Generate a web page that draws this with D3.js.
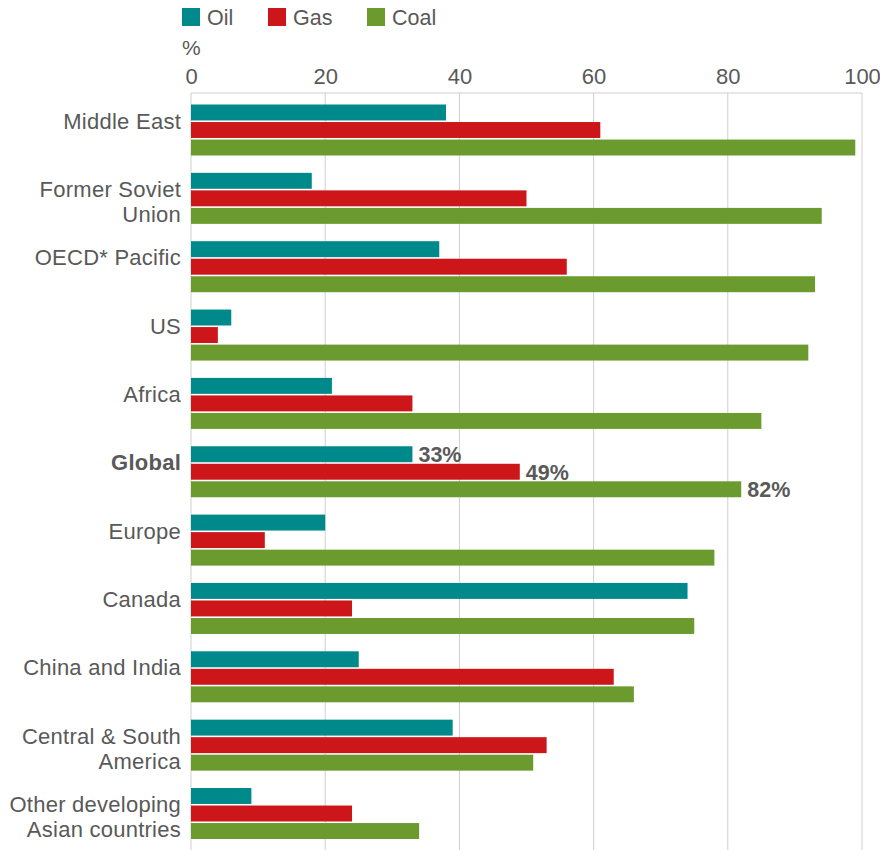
<!DOCTYPE html>
<html>
<head>
<meta charset="utf-8">
<script src="https://cdn.jsdelivr.net/npm/d3@7/dist/d3.min.js"></script>
<style>
  html, body { margin: 0; padding: 0; background: #fff; }
  svg { display: block; font-family: "Liberation Sans", Arial, sans-serif; }
</style>
</head>
<body>
<svg id="chart" width="880" height="850"></svg>
<script>
// Regions, top to bottom, with line breaks for the wrapped labels
const regions = [
  ["Middle East"],
  ["Former Soviet", "Union"],
  ["OECD* Pacific"],
  ["US"],
  ["Africa"],
  ["Global"],
  ["Europe"],
  ["Canada"],
  ["China and India"],
  ["Central & South", "America"],
  ["Other developing", "Asian countries"]
];
const fuels = ["Oil", "Gas", "Coal"];
// Percent values per region
const oil  = [38, 18, 37, 6, 21, 33, 20, 74, 25, 39, 9];
const gas  = [61, 50, 56, 4, 33, 49, 11, 24, 63, 53, 24];
const coal = [99, 94, 93, 92, 85, 82, 78, 75, 66, 51, 34];
const xTicks = [0, 20, 40, 60, 80, 100];
const highlighted = "Global";

const fuelColors = { Oil: "#00898a", Gas: "#cc1619", Coal: "#6b9b2e" };
const seriesValues = { Oil: oil, Gas: gas, Coal: coal };

const svg = d3.select("#chart");
const textColor = "#595959";
const gridColor = "#cfcfcf";

const plotLeft = 191, plotRight = 862, plotTop = 93;
const x = d3.scaleLinear().domain([0, 100]).range([plotLeft, plotRight]);

const keys = regions.map(r => r.join(" "));
const groupStep = 68.35;
const y = d3.scaleBand().domain(keys)
  .range([104.5, 104.5 + groupStep * keys.length])
  .paddingInner(0).paddingOuter(0);
const yInner = d3.scaleBand().domain(fuels).range([0, 51]).paddingInner(0.09).paddingOuter(0);

// Legend
const legend = svg.append("g").attr("transform", "translate(182,8)");
const legendX = [0, 86, 185];
fuels.forEach((f, i) => {
  const g = legend.append("g").attr("transform", `translate(${legendX[i]},0)`);
  g.append("rect").attr("width", 18).attr("height", 18).attr("fill", fuelColors[f]);
  g.append("text").attr("x", 25).attr("y", 17)
    .attr("font-size", 21.5).attr("fill", textColor).text(f);
});

// Unit label
svg.append("text").attr("x", 182).attr("y", 55)
  .attr("font-size", 21).attr("fill", textColor).text("%");

// Top axis
const axis = d3.axisTop(x).tickValues(xTicks).tickSize(0).tickPadding(0);
const ax = svg.append("g").attr("transform", "translate(0,84)").call(axis);
ax.select(".domain").remove();
ax.selectAll("text").attr("font-size", 22).attr("fill", textColor)
  .attr("font-family", "Liberation Sans, Arial, sans-serif").attr("dy", 0);

// Gridlines and frame
svg.append("g").selectAll("line").data(xTicks).join("line")
  .attr("x1", d => x(d)).attr("x2", d => x(d))
  .attr("y1", plotTop).attr("y2", 850)
  .attr("stroke", gridColor).attr("stroke-width", 1);
svg.append("line").attr("x1", plotLeft).attr("x2", plotRight)
  .attr("y1", plotTop).attr("y2", plotTop)
  .attr("stroke", gridColor).attr("stroke-width", 1);

// Bars
const groups = svg.append("g").selectAll("g").data(keys).join("g")
  .attr("transform", k => `translate(0,${y(k)})`);

groups.each(function(k, i) {
  const g = d3.select(this);
  fuels.forEach(f => {
    const v = seriesValues[f][i];
    g.append("rect")
      .attr("x", x(0))
      .attr("y", yInner(f))
      .attr("width", x(v) - x(0))
      .attr("height", yInner.bandwidth())
      .attr("fill", fuelColors[f]);
    if (k === highlighted) {
      g.append("text")
        .attr("x", x(v) + 6)
        .attr("y", yInner(f) + yInner.bandwidth() / 2 + 8)
        .attr("font-size", 21.5).attr("font-weight", "bold")
        .attr("fill", textColor)
        .text(v + "%");
    }
  });
  // Region label
  const lines = regions[i];
  const label = g.append("text")
    .attr("text-anchor", "end")
    .attr("font-size", 22)
    .attr("letter-spacing", 0.25)
    .attr("fill", textColor)
    .attr("font-weight", k === highlighted ? "bold" : "normal");
  lines.forEach((ln, j) => {
    label.append("tspan").attr("x", 181).attr("y", 24 + j * 25).text(ln);
  });
});
</script>
</body>
</html>
